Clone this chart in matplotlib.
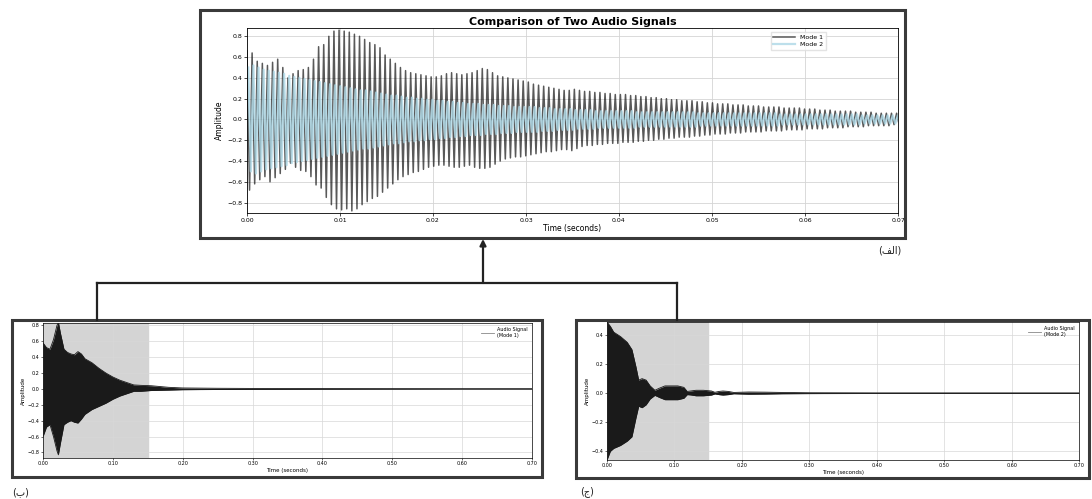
import numpy as np
import matplotlib
matplotlib.use("Agg")
import matplotlib.pyplot as plt
from matplotlib.patches import Rectangle, FancyArrowPatch
from matplotlib.lines import Line2D

# ---- data ----
# top panel: peak per oscillation (Mode 1 = dark, Mode 2 = light blue)
stroke_period = 0.00055
mode1_upper = [0.66, 0.64, 0.56, 0.54, 0.52, 0.55, 0.58, 0.50, 0.40, 0.44,
               0.47, 0.48, 0.50, 0.58, 0.70, 0.72, 0.80, 0.85, 0.86, 0.85,
               0.84, 0.82, 0.80, 0.77, 0.74, 0.72, 0.69, 0.62, 0.58, 0.54,
               0.50, 0.47, 0.45, 0.44, 0.43, 0.42, 0.41, 0.41, 0.42, 0.44,
               0.45, 0.44, 0.43, 0.44, 0.45, 0.47, 0.49, 0.48, 0.45, 0.42,
               0.41, 0.40, 0.39, 0.38, 0.37, 0.36, 0.34, 0.33, 0.32, 0.31,
               0.30, 0.29, 0.28, 0.28, 0.29, 0.28, 0.27, 0.27, 0.26, 0.26,
               0.25, 0.25, 0.24, 0.24, 0.24, 0.23, 0.23, 0.22, 0.22, 0.21,
               0.21, 0.20, 0.20, 0.19, 0.19, 0.18, 0.18, 0.18, 0.17, 0.17,
               0.16, 0.16, 0.15, 0.15, 0.15, 0.14, 0.14, 0.14, 0.13, 0.13,
               0.13, 0.12, 0.12, 0.12, 0.12, 0.11, 0.11, 0.11, 0.11, 0.10,
               0.10, 0.10, 0.09, 0.09, 0.09, 0.08, 0.08, 0.08, 0.08, 0.07,
               0.07, 0.07, 0.07, 0.06, 0.06, 0.06, 0.06, 0.06]
mode1_lower = [-0.68, -0.62, -0.58, -0.55, -0.60, -0.56, -0.52, -0.48, -0.42, -0.46,
               -0.49, -0.50, -0.55, -0.63, -0.66, -0.75, -0.82, -0.86, -0.87, -0.86,
               -0.88, -0.86, -0.82, -0.79, -0.76, -0.74, -0.70, -0.66, -0.62, -0.58,
               -0.55, -0.53, -0.51, -0.50, -0.48, -0.46, -0.45, -0.44, -0.44, -0.45,
               -0.46, -0.46, -0.45, -0.44, -0.46, -0.47, -0.47, -0.46, -0.43, -0.40,
               -0.38, -0.37, -0.36, -0.36, -0.35, -0.34, -0.33, -0.32, -0.31, -0.31,
               -0.30, -0.29, -0.29, -0.30, -0.28, -0.26, -0.25, -0.25, -0.24, -0.24,
               -0.23, -0.23, -0.23, -0.22, -0.22, -0.22, -0.21, -0.21, -0.20, -0.20,
               -0.19, -0.19, -0.18, -0.18, -0.17, -0.17, -0.17, -0.16, -0.16, -0.15,
               -0.15, -0.14, -0.14, -0.14, -0.13, -0.13, -0.13, -0.12, -0.12, -0.12,
               -0.12, -0.11, -0.11, -0.11, -0.11, -0.10, -0.10, -0.10, -0.10, -0.09,
               -0.09, -0.09, -0.09, -0.08, -0.08, -0.08, -0.08, -0.07, -0.07, -0.07,
               -0.07, -0.06, -0.06, -0.06, -0.06, -0.06, -0.05, -0.05]
mode2_amp = [0.50, 0.52, 0.50, 0.48, 0.47, 0.46, 0.45,
             0.44, 0.42, 0.41, 0.40, 0.39, 0.38, 0.37,
             0.36, 0.35, 0.34, 0.33, 0.32, 0.31, 0.30,
             0.29, 0.28, 0.28, 0.27, 0.26, 0.25, 0.24, 0.23, 0.23, 0.22,
             0.21, 0.21, 0.20, 0.20, 0.19, 0.19, 0.18, 0.18, 0.17, 0.17, 0.16, 0.16,
             0.15, 0.15, 0.15, 0.14, 0.14, 0.14, 0.13, 0.13, 0.13, 0.12, 0.12,
             0.12, 0.12, 0.12, 0.11, 0.11, 0.11, 0.10, 0.10, 0.10, 0.10,
             0.09, 0.09, 0.09, 0.09, 0.08, 0.08, 0.08, 0.08,
             0.08, 0.08, 0.08, 0.08, 0.07, 0.07, 0.07, 0.07,
             0.07, 0.07, 0.07, 0.07, 0.07, 0.07, 0.07, 0.07,
             0.06, 0.06, 0.06, 0.06, 0.06, 0.06, 0.06, 0.06,
             0.06, 0.06, 0.06, 0.06, 0.06, 0.06, 0.06, 0.06,
             0.05, 0.05, 0.05, 0.05, 0.05, 0.05, 0.05, 0.05,
             0.05, 0.05, 0.05, 0.05, 0.05, 0.05, 0.05, 0.05,
             0.04, 0.04, 0.04, 0.04, 0.04, 0.04, 0.04, 0.04]
top_xticks = [0.00, 0.01, 0.02, 0.03, 0.04, 0.05, 0.06, 0.07]
top_yticks = [-0.8, -0.6, -0.4, -0.2, 0.0, 0.2, 0.4, 0.6, 0.8]

# bottom-left: envelope of full Mode 1 signal
env1_t = [0.000, 0.005, 0.010, 0.015, 0.020, 0.022, 0.025, 0.030, 0.035, 0.040,
          0.045, 0.050, 0.055, 0.060, 0.070, 0.080, 0.090, 0.100, 0.110, 0.120,
          0.130, 0.140, 0.155, 0.180, 0.200, 0.250, 0.300, 0.400, 0.500, 0.600, 0.700]
env1_up = [0.58, 0.52, 0.50, 0.62, 0.80, 0.84, 0.70, 0.50, 0.46, 0.44,
           0.43, 0.47, 0.44, 0.38, 0.33, 0.26, 0.20, 0.15, 0.11, 0.08,
           0.05, 0.045, 0.04, 0.02, 0.012, 0.008, 0.006, 0.004, 0.003, 0.002, 0.002]
env1_lo = [-0.60, -0.48, -0.45, -0.60, -0.78, -0.83, -0.68, -0.45, -0.42, -0.40,
           -0.42, -0.43, -0.38, -0.32, -0.26, -0.22, -0.18, -0.13, -0.09, -0.06,
           -0.03, -0.03, -0.02, -0.015, -0.01, -0.007, -0.005, -0.004, -0.003, -0.002, -0.002]
bl_yticks = [-0.8, -0.6, -0.4, -0.2, 0.0, 0.2, 0.4, 0.6, 0.8]

# bottom-right: envelope of full Mode 2 signal
env2_t = [0.000, 0.005, 0.010, 0.020, 0.030, 0.037, 0.043, 0.047, 0.052, 0.058,
          0.064, 0.071, 0.078, 0.086, 0.095, 0.105, 0.114, 0.119, 0.124, 0.132,
          0.143, 0.155, 0.160, 0.166, 0.172, 0.180, 0.188, 0.195, 0.210, 0.235,
          0.260, 0.300, 0.400, 0.500, 0.600, 0.700]
env2_up = [0.49, 0.46, 0.42, 0.39, 0.35, 0.30, 0.18, 0.09, 0.10, 0.09,
           0.05, 0.02, 0.035, 0.05, 0.05, 0.05, 0.04, 0.012, 0.015, 0.02,
           0.02, 0.015, 0.006, 0.012, 0.015, 0.012, 0.005, 0.006, 0.008, 0.007,
           0.005, 0.003, 0.002, 0.002, 0.002, 0.002]
env2_lo = [-0.46, -0.40, -0.38, -0.36, -0.33, -0.30, -0.17, -0.09, -0.10, -0.08,
           -0.04, -0.015, -0.03, -0.045, -0.045, -0.045, -0.035, -0.01, -0.012, -0.018,
           -0.018, -0.013, -0.005, -0.01, -0.013, -0.01, -0.004, -0.005, -0.007, -0.006,
           -0.004, -0.003, -0.002, -0.002, -0.002, -0.002]
br_yticks = [-0.4, -0.2, 0.0, 0.2, 0.4]
bottom_xticks = [0.0, 0.1, 0.2, 0.3, 0.4, 0.5, 0.6, 0.7]
highlight_end = 0.15

W, H = 1092, 499
fig = plt.figure(figsize=(W / 100, H / 100), dpi=100)


def box(x0, y0, x1, y1):
    # pixel box (top-left origin) -> figure fraction rect
    return [x0 / W, 1 - y1 / H, (x1 - x0) / W, (y1 - y0) / H]


def pt(x, y):
    return x / W, 1 - y / H


# ---- top panel ----
ax = fig.add_axes(box(247, 28, 898, 213))
n = len(mode1_upper)
k = np.arange(n)
t1 = np.empty(2 * n)
y1 = np.empty(2 * n)
t1[0::2] = k * stroke_period
t1[1::2] = (k + 0.5) * stroke_period
y1[0::2] = mode1_upper
y1[1::2] = mode1_lower
amp2 = np.array(mode2_amp)
t2 = np.empty(2 * n)
y2 = np.empty(2 * n)
t2[0::2] = (k + 0.25) * stroke_period
t2[1::2] = (k + 0.75) * stroke_period
y2[0::2] = amp2
y2[1::2] = -amp2
ax.plot(t1, y1, color="black", alpha=0.65, lw=1.1, label="Mode 1")
ax.plot(t2, y2, color="lightblue", alpha=0.8, lw=1.6, label="Mode 2")
ax.set_xlim(0, 0.07)
ax.set_ylim(-0.9, 0.88)
ax.set_xticks(top_xticks)
ax.set_xticklabels(["%.2f" % v for v in top_xticks])
ax.set_yticks(top_yticks)
ax.tick_params(labelsize=4.5, length=2, width=0.5, pad=1.5)
ax.grid(True, color="#d5d5d5", lw=0.6)
ax.set_axisbelow(True)
ax.set_title("Comparison of Two Audio Signals", fontsize=8, fontweight="bold", pad=2)
ax.set_xlabel("Time (seconds)", fontsize=5.5, labelpad=1)
ax.set_ylabel("Amplitude", fontsize=5.5, labelpad=2)
ax.legend(loc="upper left", bbox_to_anchor=(0.8, 0.995), fontsize=4.5,
          handlelength=3.5, frameon=True, fancybox=False, edgecolor="#dddddd",
          borderpad=0.4, labelspacing=0.3)
for s in ax.spines.values():
    s.set_linewidth(0.6)


# ---- bottom panels ----
def bottom_panel(rect, t, up, lo, label, yticks, ylim):
    a = fig.add_axes(rect)
    a.axvspan(0, highlight_end, color="#d4d4d4", zorder=0)
    a.fill_between(t, lo, up, color="#1a1a1a", lw=0, zorder=2)
    a.plot(t, up, color="#1a1a1a", lw=0.6, zorder=3, label=label)
    a.plot(t, lo, color="#1a1a1a", lw=0.6, zorder=3)
    a.set_xlim(0, 0.7)
    a.set_ylim(*ylim)
    a.set_xticks(bottom_xticks)
    a.set_xticklabels(["%.2f" % v for v in bottom_xticks])
    a.set_yticks(yticks)
    a.tick_params(labelsize=3.5, length=1.5, width=0.4, pad=1)
    a.grid(True, color="#d8d8d8", lw=0.5, zorder=1)
    a.set_xlabel("Time (seconds)", fontsize=4, labelpad=1)
    a.set_ylabel("Amplitude", fontsize=4, labelpad=1)
    leg = a.legend(loc="upper right", fontsize=3.5, handlelength=2.5, frameon=False,
                   borderpad=0.3)
    for h in leg.get_lines():
        h.set_color("#888888")
    for s in a.spines.values():
        s.set_linewidth(0.5)
    return a


bottom_panel(box(43, 323, 532, 458), env1_t, env1_up, env1_lo,
             "Audio Signal\n(Mode 1)", bl_yticks, (-0.87, 0.83))
bottom_panel(box(607, 322, 1079, 460), env2_t, env2_up, env2_lo,
             "Audio Signal\n(Mode 2)", br_yticks, (-0.46, 0.49))

# ---- frames ----
frame_color = "#3a3a3a"
for x0, y0, x1, y1_ in [(200, 10, 905, 238), (12, 320, 542, 477), (576, 320, 1089, 478)]:
    fig.add_artist(Rectangle((x0 / W, 1 - y1_ / H), (x1 - x0) / W, (y1_ - y0) / H,
                             transform=fig.transFigure, fill=False,
                             edgecolor=frame_color, lw=2.2))

# ---- connectors ----
line_kw = dict(transform=fig.transFigure, color="#222222", lw=1.6)
for (xa, ya), (xb, yb) in [((97, 283), (677, 283)), ((97, 283), (97, 320)),
                           ((677, 283), (677, 320))]:
    p0, p1 = pt(xa, ya), pt(xb, yb)
    fig.add_artist(Line2D([p0[0], p1[0]], [p0[1], p1[1]], **line_kw))
fig.add_artist(FancyArrowPatch(pt(483, 283), pt(483, 239), transform=fig.transFigure,
                               arrowstyle="-|>", mutation_scale=9, lw=1.6,
                               color="#222222", shrinkA=0, shrinkB=0))

# ---- panel labels (Arabic letters, presentation forms for correct shaping) ----
lab_kw = dict(fontsize=7, family=["DejaVu Sans"], ha="center", va="center", color="#222222")
fig.text(*pt(890, 251), "(\ufed2\ufedf\ufe8d)", **lab_kw)
fig.text(*pt(21, 492), "(\ufe8f)", **lab_kw)
fig.text(*pt(587, 492), "(\ufe9d)", **lab_kw)

fig.savefig("out.png", dpi=100)
